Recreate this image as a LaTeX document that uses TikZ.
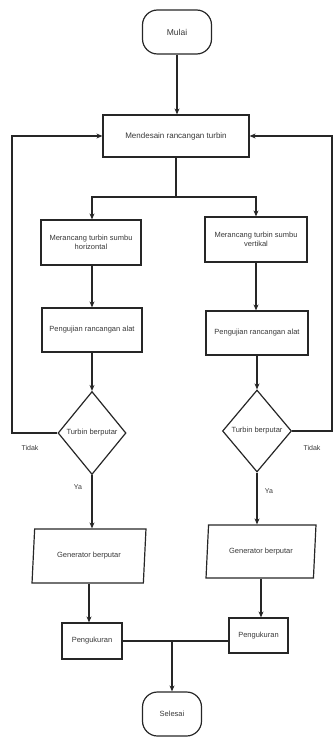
\documentclass[tikz,border=0pt]{standalone}
\usepackage{fontspec}
\setmainfont{Liberation Sans}
\usetikzlibrary{shapes.geometric,arrows.meta}
\begin{document}
\begin{tikzpicture}[x=1pt,y=-1pt,
  base/.style={draw=black!85,line width=1.2pt,text=black!78,font=\fontsize{7.5}{9}\selectfont,inner sep=1pt,align=center},
  term/.style={base,rectangle,rounded corners=15pt},
  proc/.style={base,rectangle},
  dec/.style={base,diamond,inner sep=0pt},
  io/.style={base,trapezium,trapezium left angle=80,trapezium right angle=100,trapezium stretches=true},
  conn/.style={draw=black!85,line width=1.2pt},
  arr/.style={conn,-{Stealth[length=6pt,width=5pt]}},
  lbl/.style={text=black!78,font=\fontsize{7}{8}\selectfont,inner sep=0pt}]
\useasboundingbox (0,0) rectangle (333,738);
\node[term,minimum width=69pt,minimum height=44pt,font=\fontsize{8.5}{10}\selectfont] (mulai) at (177,32) {Mulai};
\node[proc,minimum width=146pt,minimum height=42pt,font=\fontsize{8}{9.5}\selectfont] (mend) at (176,136) {Mendesain rancangan turbin};
\node[proc,minimum width=100pt,minimum height=45pt] (h1) at (91,242.5) {Merancang turbin sumbu\\horizontal};
\node[proc,minimum width=102pt,minimum height=45pt] (v1) at (256,239.5) {Merancang turbin sumbu\\vertikal};
\node[proc,minimum width=100pt,minimum height=44pt] (p1) at (92,330) {Pengujian rancangan alat};
\node[proc,minimum width=102pt,minimum height=44pt] (p2) at (257,333) {Pengujian rancangan alat};
\node[dec,minimum width=68pt,minimum height=83pt] (d1) at (92,433) {Turbin berputar};
\node[dec,minimum width=69pt,minimum height=82pt] (d2) at (257,431) {Turbin berputar};
\node[io,minimum width=114pt,minimum height=54pt] (g1) at (89,556) {Generator berputar};
\node[io,minimum width=110pt,minimum height=53pt] (g2) at (261,551.5) {Generator berputar};
\node[proc,minimum width=60pt,minimum height=36pt] (m1) at (92,641) {Pengukuran};
\node[proc,minimum width=59pt,minimum height=35pt] (m2) at (258.5,635.5) {Pengukuran};
\node[term,minimum width=59pt,minimum height=44pt] (sel) at (172,714) {Selesai};
\node[lbl] (t1) at (30,448) {Tidak};
\node[lbl] (t2) at (312,448) {Tidak};
\node[lbl] (y1) at (78,487) {Ya};
\node[lbl] (y2) at (269,491) {Ya};
\coordinate (split) at (176,197);
\coordinate (join) at (172,641);
\draw[arr] (mulai.south) -- (mulai.south |- mend.north);
\draw[conn] (mend.south) -- (split);
\draw[arr] (split) -| (92,0 |- h1.north);
\draw[arr] (split) -| (256,0 |- v1.north);
\draw[arr] (92,0 |- h1.south) -- (92,0 |- p1.north);
\draw[arr] (p1.south) -- (d1.north);
\draw[arr] (v1.south) -- (v1.south |- p2.north);
\draw[arr] (257,0 |- p2.south) -- (d2.north);
\draw[arr] (d1.west) -- (12,0 |- d1.west) |- (mend.west);
\draw[arr] (d2.east) -- (332,0 |- d2.east) |- (mend.east);
\draw[arr] (d1.south) -- (d1.south |- g1.north);
\draw[arr] (d2.south) -- (d2.south |- g2.north);
\draw[arr] (g1.south) -- (g1.south |- m1.north);
\draw[arr] (g2.south) -- (g2.south |- m2.north);
\draw[conn] (m1.east) -- (m1.east -| m2.west);
\draw[arr] (join) -- (sel.north);
\end{tikzpicture}
\end{document}
